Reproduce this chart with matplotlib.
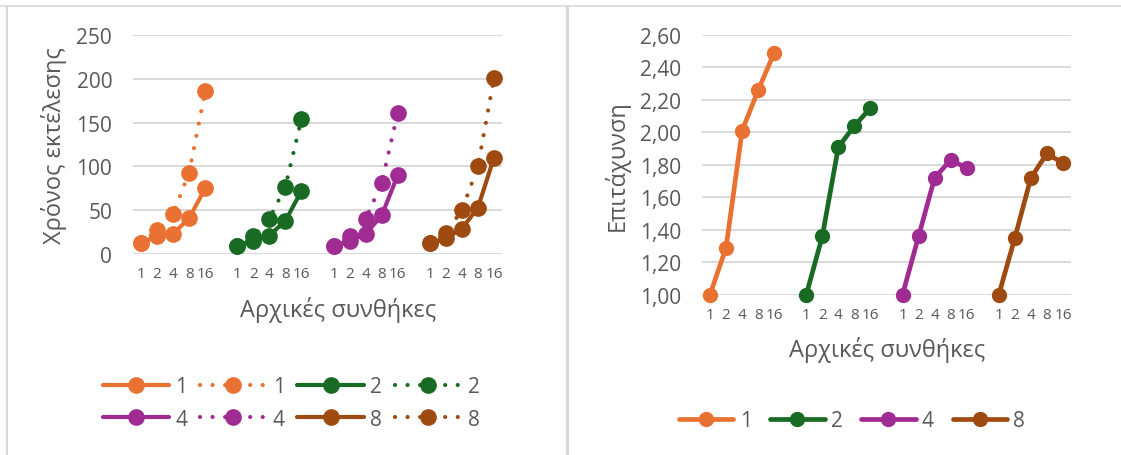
import matplotlib
matplotlib.use("Agg")
from matplotlib import pyplot as plt
from matplotlib.lines import Line2D
import numpy as np

plt.rcParams['font.family'] = ['Open Sans', 'DejaVu Sans']

# threads per group, cores on the x axis
groups = ['1', '2', '4', '8']
cores = ['1', '2', '4', '8', '16']

# execution time (solid = parallel, dotted = reference run)
time_solid = {
    '1': [12, 21, 23, 41, 75],
    '2': [9.5, 15, 21, 38, 72],
    '4': [9.5, 14.5, 23, 44, 90],
    '8': [12, 18, 29, 53, 110],
}
time_dotted = {
    '1': [12, 27, 46, 93, 186],
    '2': [9.5, 20, 40, 77, 154],
    '4': [9.5, 20, 40, 81, 161],
    '8': [12, 24, 50, 100, 201],
}
# speedup
speedup = {
    '1': [1.00, 1.29, 2.01, 2.26, 2.49],
    '2': [1.00, 1.36, 1.91, 2.04, 2.15],
    '4': [1.00, 1.36, 1.72, 1.83, 1.78],
    '8': [1.00, 1.35, 1.72, 1.87, 1.81],
}

colors = {'1': '#E97132', '2': '#196B24', '4': '#A02B93', '8': '#9E4A10'}
txt = '#595959'
grid = '#D9D9D9'

W, H = 1121, 456
fig = plt.figure(figsize=(W / 100, H / 100), dpi=100)

# category slots: 5 per group with a blank slot between groups
n = len(cores)
slots = len(groups) * (n + 1) - 1
xpos = {g: np.arange(n) + i * (n + 1) for i, g in enumerate(groups)}
tick_pos = np.arange(slots)
tick_lab = []
for i in range(slots):
    k = i % (n + 1)
    tick_lab.append(cores[k] if k < n else '')


def setup(ax, ymin, ymax, step, fmt):
    ax.set_xlim(-0.5, slots - 0.5)
    ax.set_ylim(ymin, ymax)
    ticks = np.arange(ymin, ymax + step / 2, step)
    ax.set_yticks(ticks)
    ax.set_yticklabels([fmt(t) for t in ticks])
    ax.set_xticks(tick_pos)
    ax.set_xticklabels(tick_lab)
    for s in ax.spines.values():
        s.set_visible(False)
    ax.tick_params(length=0, colors=txt)
    ax.tick_params(axis='y', labelsize=15, pad=15)
    ax.tick_params(axis='x', labelsize=11, pad=9)
    ax.yaxis.grid(True, color=grid, lw=1.4)
    ax.set_axisbelow(True)


# left: execution time
ax1 = fig.add_axes([133 / W, 1 - 255 / H, 369 / W, 219 / H])
setup(ax1, 0, 250, 50, lambda t: f'{int(t)}')
handles = []
for g in groups:
    hs, = ax1.plot(xpos[g], time_solid[g], color=colors[g], lw=3, marker='o',
                   ms=11, solid_capstyle='round', label=g, clip_on=False)
    hd, = ax1.plot(xpos[g], time_dotted[g], color=colors[g], lw=3, marker='o',
                   ms=11, linestyle=(0, (0.01, 3)), dash_capstyle='round',
                   label=g, clip_on=False)
    handles.append((hs, hd))
# legend filled row by row: orange/green on top, purple/brown below
row1 = [handles[0][0], handles[0][1], handles[1][0], handles[1][1]]
row2 = [handles[2][0], handles[2][1], handles[3][0], handles[3][1]]
hl = [h for pair in zip(row1, row2) for h in pair]
fig.legend(hl, [h.get_label() for h in hl], ncol=4, loc='center',
           bbox_to_anchor=(291 / W, 1 - 404 / H), frameon=False, fontsize=15,
           labelcolor=txt, handlelength=3.2, handletextpad=0.3, columnspacing=0.6,
           labelspacing=0.55)
fig.text(54 / W, 1 - 146 / H, 'Χρόνος εκτέλεσης', rotation=90, ha='center',
         va='center', fontsize=17, color=txt)
fig.text(338 / W, 1 - 310 / H, 'Αρχικές συνθήκες', ha='center', va='center',
         fontsize=17, color=txt)

# right: speedup
ax2 = fig.add_axes([702 / W, 1 - 295.7 / H, 369 / W, 259.7 / H])
setup(ax2, 1.0, 2.6, 0.2, lambda t: f'{t:.2f}'.replace('.', ','))
h2 = []
for g in groups:
    h, = ax2.plot(xpos[g], speedup[g], color=colors[g], lw=3.4, marker='o',
                  ms=10, solid_capstyle='round', label=g, clip_on=False)
    h2.append(h)
fig.legend(h2, groups, ncol=4, loc='center', bbox_to_anchor=(852 / W, 1 - 422 / H),
           frameon=False, fontsize=15, labelcolor=txt, handlelength=2.6,
           handletextpad=0.3, columnspacing=0.9)
fig.text(617 / W, 1 - 166 / H, 'Επιτάχυνση', rotation=90, ha='center',
         va='center', fontsize=17, color=txt)
fig.text(887 / W, 1 - 350 / H, 'Αρχικές συνθήκες', ha='center', va='center',
         fontsize=17, color=txt)

# panel borders
fig.add_artist(Line2D([0, 1], [1 - 7 / H, 1 - 7 / H], color=grid, lw=1.2))
fig.add_artist(Line2D([7 / W, 7 / W], [0, 1 - 7 / H], color=grid, lw=1.5))
fig.add_artist(Line2D([567 / W, 567 / W], [0, 1 - 7 / H], color=grid, lw=2.2))

fig.savefig('out.png', dpi=100)
